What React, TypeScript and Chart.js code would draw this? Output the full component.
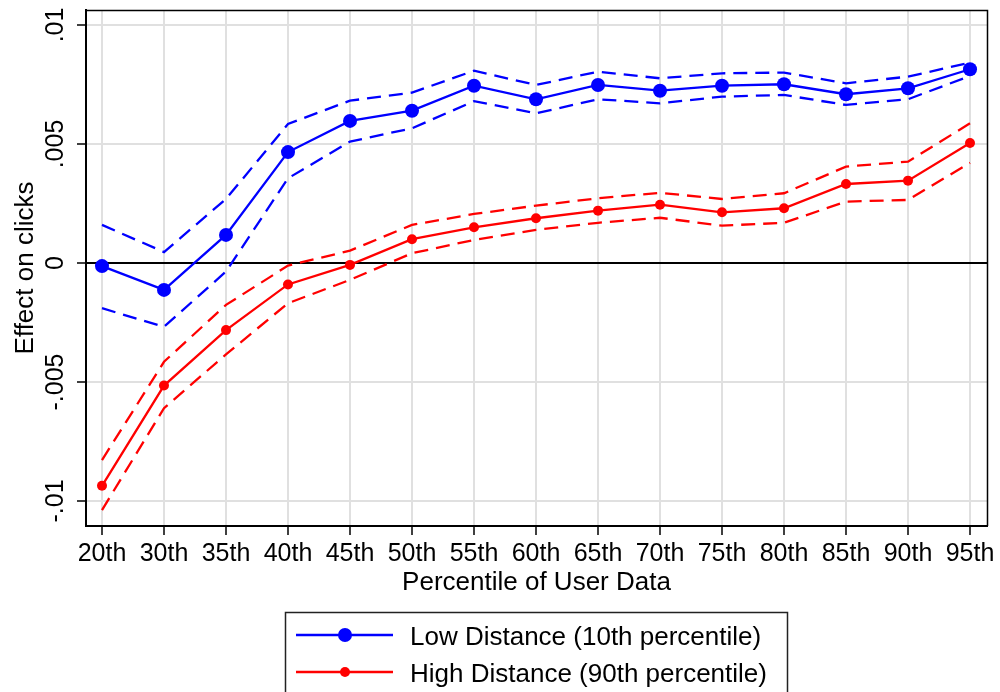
import React, { useEffect, useRef } from "react";
import { Chart, registerables } from "chart.js";

Chart.register(...registerables);

const percentiles = ["20th", "30th", "35th", "40th", "45th", "50th", "55th", "60th", "65th", "70th", "75th", "80th", "85th", "90th", "95th"];

const lowEffect = [-0.00013, -0.00113, 0.00118, 0.00466, 0.00597, 0.0064, 0.00745, 0.00688, 0.00748, 0.00724, 0.00745, 0.00751, 0.00709, 0.00734, 0.00814];
const lowUpper = [0.0016, 0.00046, 0.00269, 0.00584, 0.00682, 0.00716, 0.00808, 0.00748, 0.00804, 0.00776, 0.00797, 0.008, 0.00755, 0.00783, 0.00842];
const lowLower = [-0.0019, -0.00268, -0.00036, 0.00356, 0.0051, 0.00566, 0.0068, 0.00629, 0.00688, 0.00671, 0.00699, 0.00706, 0.00664, 0.00688, 0.00786];

const highEffect = [-0.00936, -0.00515, -0.00282, -0.0009, -0.00008, 0.001, 0.0015, 0.00188, 0.0022, 0.00245, 0.00213, 0.0023, 0.00332, 0.00346, 0.00504];
const highUpper = [-0.00828, -0.00415, -0.00176, -0.00011, 0.00052, 0.0016, 0.00206, 0.00241, 0.00272, 0.00295, 0.00269, 0.00293, 0.00405, 0.00426, 0.00587];
const highLower = [-0.01038, -0.0061, -0.00384, -0.00169, -0.00071, 0.00041, 0.00097, 0.00139, 0.00169, 0.0019, 0.00157, 0.00169, 0.00258, 0.00265, 0.00421];

const yTickValues = [-0.01, -0.005, 0, 0.005, 0.01];
const yTickLabels = ["-.01", "-.005", "0", ".005", ".01"];

const xTitle = "Percentile of User Data";
const yTitle = "Effect on clicks";
const legendLabels = ["Low Distance (10th percentile)", "High Distance (90th percentile)"];

const BLUE = "#0000ff";
const RED = "#ff0000";
const FONT = "'Liberation Sans', Arial, Helvetica, sans-serif";

const toXY = (arr: number[]) => arr.map((v, i) => ({ x: i, y: v }));

export default function App() {
  const ref = useRef<HTMLCanvasElement | null>(null);

  useEffect(() => {
    if (!ref.current) return;

    const textPlugin = {
      id: "customText",
      beforeDatasetsDraw(chart: any) {
        const { ctx, chartArea, scales } = chart;
        const y0 = scales.y.getPixelForValue(0);
        ctx.save();
        ctx.strokeStyle = "#000";
        ctx.lineWidth = 2;
        ctx.beginPath();
        ctx.moveTo(chartArea.left, y0);
        ctx.lineTo(chartArea.right, y0);
        ctx.stroke();
        ctx.restore();
      },
      afterDraw(chart: any) {
        const { ctx, chartArea, scales } = chart;
        ctx.save();
        // plot box
        ctx.strokeStyle = "#000";
        ctx.lineWidth = 1.5;
        ctx.beginPath();
        ctx.moveTo(chartArea.left, chartArea.top + 0.5);
        ctx.lineTo(chartArea.right + 0.5, chartArea.top + 0.5);
        ctx.lineTo(chartArea.right + 0.5, chartArea.bottom);
        ctx.stroke();

        ctx.fillStyle = "#000";
        // x tick labels
        ctx.font = `25px ${FONT}`;
        ctx.textAlign = "center";
        ctx.textBaseline = "alphabetic";
        percentiles.forEach((lab, i) => {
          ctx.fillText(lab, scales.x.getPixelForValue(i), 561);
        });
        // y tick labels (rotated)
        yTickValues.forEach((v, i) => {
          const py = scales.y.getPixelForValue(v);
          ctx.save();
          ctx.translate(63, py);
          ctx.rotate(-Math.PI / 2);
          ctx.textAlign = "center";
          ctx.fillText(yTickLabels[i], 0, 0);
          ctx.restore();
        });
        // titles
        ctx.font = `26px ${FONT}`;
        ctx.textAlign = "center";
        ctx.fillText(xTitle, (chartArea.left + chartArea.right) / 2, 590);
        ctx.save();
        ctx.translate(33, (chartArea.top + chartArea.bottom) / 2);
        ctx.rotate(-Math.PI / 2);
        ctx.fillText(yTitle, 0, 0);
        ctx.restore();

        // legend
        ctx.strokeStyle = "#222";
        ctx.lineWidth = 1.5;
        ctx.strokeRect(285.5, 612.5, 502, 100);
        const items = [
          { color: BLUE, r: 7, y: 635, label: legendLabels[0] },
          { color: RED, r: 5, y: 672, label: legendLabels[1] },
        ];
        items.forEach((it) => {
          ctx.strokeStyle = it.color;
          ctx.lineWidth = 2.3;
          ctx.beginPath();
          ctx.moveTo(296, it.y);
          ctx.lineTo(393, it.y);
          ctx.stroke();
          ctx.fillStyle = it.color;
          ctx.beginPath();
          ctx.arc(345, it.y, it.r, 0, Math.PI * 2);
          ctx.fill();
          ctx.fillStyle = "#000";
          ctx.font = `26px ${FONT}`;
          ctx.textAlign = "left";
          ctx.fillText(it.label, 410, it.y + 10);
        });
        ctx.restore();
      },
    };

    const dashed = (data: number[], color: string) => ({
      data: toXY(data),
      borderColor: color,
      borderWidth: 2.3,
      borderDash: [14, 8],
      pointRadius: 0,
      fill: false,
      tension: 0,
    });

    const chart = new Chart(ref.current, {
      type: "line",
      data: {
        datasets: [
          dashed(lowUpper, BLUE),
          dashed(lowLower, BLUE),
          dashed(highUpper, RED),
          dashed(highLower, RED),
          {
            data: toXY(lowEffect),
            borderColor: BLUE,
            backgroundColor: BLUE,
            borderWidth: 2.3,
            pointRadius: 7,
            pointBorderWidth: 0,
            pointBackgroundColor: BLUE,
            fill: false,
            tension: 0,
          },
          {
            data: toXY(highEffect),
            borderColor: RED,
            backgroundColor: RED,
            borderWidth: 2.3,
            pointRadius: 5,
            pointBorderWidth: 0,
            pointBackgroundColor: RED,
            fill: false,
            tension: 0,
          },
        ],
      },
      options: {
        animation: false,
        responsive: false,
        devicePixelRatio: 1,
        layout: { padding: { left: 0, right: 13, top: 10, bottom: 0 } },
        plugins: { legend: { display: false }, tooltip: { enabled: false } },
        scales: {
          x: {
            type: "linear",
            min: -0.258,
            max: 14.274,
            afterBuildTicks: (s: any) => {
              s.ticks = percentiles.map((_, i) => ({ value: i }));
            },
            afterFit: (s: any) => {
              s.height = 166;
            },
            ticks: { display: false },
            grid: {
              color: "#e0e0e0",
              lineWidth: 2,
              drawTicks: true,
              tickLength: 9,
              tickColor: "#000",
              tickWidth: 1.5,
            },
            border: { display: true, color: "#000", width: 2 },
          },
          y: {
            type: "linear",
            min: -0.01105,
            max: 0.01063,
            afterBuildTicks: (s: any) => {
              s.ticks = yTickValues.map((v) => ({ value: v }));
            },
            afterFit: (s: any) => {
              s.width = 86;
            },
            ticks: { display: false },
            grid: {
              color: "#e0e0e0",
              lineWidth: 2,
              drawTicks: true,
              tickLength: 9,
              tickColor: "#000",
              tickWidth: 1.5,
            },
            border: { display: true, color: "#000", width: 2 },
          },
        },
      },
      plugins: [textPlugin],
    } as any);

    return () => chart.destroy();
  }, []);

  return (
    <div style={{ position: "absolute", left: 0, top: 0, width: 1000, height: 692, background: "#fff" }}>
      <canvas ref={ref} width={1000} height={692} style={{ width: 1000, height: 692, display: "block" }} />
    </div>
  );
}
